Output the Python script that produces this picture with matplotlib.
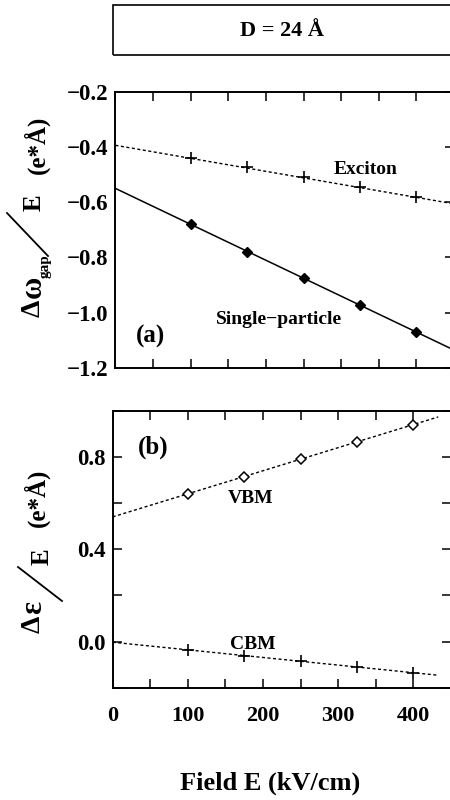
import matplotlib
matplotlib.use("Agg")
import matplotlib.pyplot as plt
from matplotlib.lines import Line2D
from matplotlib.patches import Rectangle
from matplotlib.ticker import MultipleLocator, FixedLocator

plt.rcParams['font.family'] = ['Liberation Serif', 'DejaVu Serif']
plt.rcParams['font.weight'] = 'bold'

# Field values (kV/cm)
field = [100, 175, 250, 325, 400]

# (a) gap change / E
single_particle = [-0.680, -0.779, -0.875, -0.972, -1.071]
exciton = [-0.441, -0.471, -0.508, -0.544, -0.582]
single_fit_x = [0, 450]
single_fit_y = [-0.550, -1.135]
exciton_fit_x = [0, 450]
exciton_fit_y = [-0.394, -0.606]

# (b) band edge shift / E
vbm = [0.639, 0.714, 0.789, 0.864, 0.939]
cbm = [-0.036, -0.061, -0.085, -0.109, -0.135]
vbm_fit_x = [0, 433]
vbm_fit_y = [0.540, 0.973]
cbm_fit_x = [0, 433]
cbm_fit_y = [-0.003, -0.146]

W, H = 450, 800
fig = plt.figure(figsize=(4.5, 8), dpi=100)

def px(x0, y0, x1, y1):
    # pixel box (top-left origin) -> figure fraction rect
    return [x0 / W, 1 - y1 / H, (x1 - x0) / W, (y1 - y0) / H]

ax1 = fig.add_axes(px(115.4, 91.7, 454, 368))
ax2 = fig.add_axes(px(112.7, 410.7, 451, 687.7))

dots = (0, (2.2, 1.8))

# panel (a)
ax1.plot(single_fit_x, single_fit_y, color='black', lw=1.1)
ax1.plot(field, single_particle, ls='none', marker='D', ms=5.5, color='black')
ax1.plot(exciton_fit_x, exciton_fit_y, color='black', lw=1.0, ls=dots)
ax1.plot(field, exciton, ls='none', marker='+', ms=8, mew=1.2, color='black')
ax1.text(333, -0.48, 'Exciton', fontsize=14, ha='center', va='center')
ax1.text(217, -1.026, 'Single\u2212particle', fontsize=14, ha='center', va='center')
ax1.text(46, -1.087, '(a)', fontsize=18, ha='center', va='center')

# panel (b)
ax2.plot(vbm_fit_x, vbm_fit_y, color='black', lw=1.0, ls=dots)
ax2.plot(field, vbm, ls='none', marker='D', ms=5, mfc='white', mec='black', mew=1.1)
ax2.plot(cbm_fit_x, cbm_fit_y, color='black', lw=1.0, ls=dots)
ax2.plot(field, cbm, ls='none', marker='+', ms=8, mew=1.2, color='black')
ax2.text(183, 0.62, 'VBM', fontsize=14, ha='center', va='center')
ax2.text(186, -0.013, 'CBM', fontsize=14, ha='center', va='center')
ax2.text(54, 0.843, '(b)', fontsize=18, ha='center', va='center')

for ax in (ax1, ax2):
    ax.set_xlim(0, 450)
    ax.xaxis.set_major_locator(MultipleLocator(100))
    ax.xaxis.set_minor_locator(MultipleLocator(50))
    for s in ax.spines.values():
        s.set_linewidth(1.4)
    ax.tick_params(axis='both', which='both', direction='in', length=6.5, width=1.1,
                   top=True, right=True)
    ax.tick_params(axis='y', labelsize=16.5, pad=5)

ax1.set_ylim(-1.2, -0.2)
ax1.yaxis.set_major_locator(MultipleLocator(0.2))
ax1.tick_params(axis='y', which='both', left=False)
ax1.tick_params(axis='x', labelbottom=False)
ax1.set_yticklabels([f'{v:.1f}'.replace('-', '\u2212') for v in ax1.get_yticks()])

ax2.set_ylim(-0.2, 1.0)
ax2.yaxis.set_major_locator(FixedLocator([0.0, 0.4, 0.8]))
ax2.yaxis.set_minor_locator(FixedLocator([-0.2, 0.2, 0.6, 1.0]))
ax2.tick_params(axis='x', labelsize=16, pad=13)

fig.text(270 / W, 1 - 783 / H, 'Field E (kV/cm)', fontsize=19, ha='center', va='center')

# title box
fig.patches.append(Rectangle((113.3 / W, 1 - 55 / H), 0.8, 50 / H, transform=fig.transFigure,
                             fill=False, lw=1.2, edgecolor='black'))
fig.text(282 / W, 1 - 31 / H, 'D = 24 \u00c5', fontsize=16, ha='center', va='center')

# y labels (stacked pieces, rotated)
def ylab(x, y, s, size):
    fig.text(x / W, 1 - y / H, s, fontsize=size, rotation=90, ha='center', va='center')

def slash(x0, y0, x1, y1):
    fig.add_artist(Line2D([x0 / W, x1 / W], [1 - y0 / H, 1 - y1 / H],
                          transform=fig.transFigure, color='black', lw=1.3))

ylab(33.5, 308, '\u0394', 20)
ylab(33.5, 287, '\u03c9', 22)
ylab(45, 266, 'gap', 11)
slash(7, 213, 48, 256)
ylab(34, 203, 'E', 18)
ylab(37, 145, '(e*\u00c5)', 18)

ylab(33.5, 624, '\u0394', 20)
ylab(33.5, 607, '\u03b5', 22)
slash(18, 567, 62, 601)
ylab(42, 557, 'E', 18)
ylab(37, 498, '(e*\u00c5)', 18)

fig.savefig('out.png', dpi=100)
